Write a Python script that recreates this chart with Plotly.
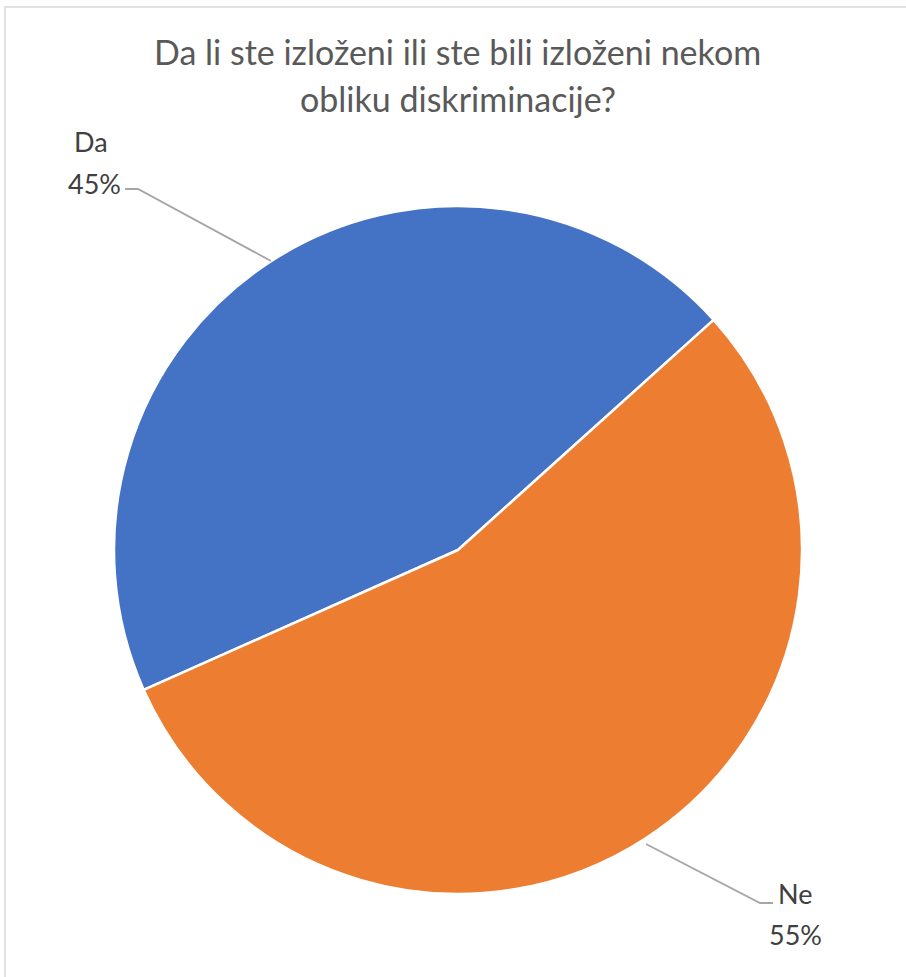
import plotly.graph_objects as go

labels = ["Da", "Ne"]
values = [45, 55]
colors = ["#4472C4", "#ED7D31"]
title_lines = ["Da li ste izloženi ili ste bili izloženi nekom", "obliku diskriminacije?"]

W, H = 906, 977
cx, cy, r = 458, 550, 344

def px(x):
    return x / W

def py(y):
    return 1 - y / H

fig = go.Figure(go.Pie(
    labels=labels,
    values=values,
    marker=dict(colors=colors, line=dict(color="white", width=2.5)),
    sort=False,
    direction="clockwise",
    rotation=246,
    textinfo="none",
    hoverinfo="label+percent",
    showlegend=False,
    domain=dict(x=[px(cx - r), px(cx + r)], y=[py(cy + r), py(cy - r)]),
))

font_family = "Lato, 'Open Sans', sans-serif"
grey = "#595959"
dark = "#404040"
line_col = "#A6A6A6"

def ann(text, x, y, size, color):
    return dict(text=text, x=px(x), y=py(y), xref="paper", yref="paper",
                showarrow=False, font=dict(family=font_family, size=size, color=color),
                xanchor="center", yanchor="middle", align="center")

annotations = [
    ann(title_lines[0], 457, 51, 34, grey),
    ann(title_lines[1], 458, 98, 34, grey),
    ann(labels[0], 91, 142, 27, dark),
    ann(f"{values[0]}%", 94, 184, 27, dark),
    ann(labels[1], 795, 893, 27, dark),
    ann(f"{values[1]}%", 795, 934, 27, dark),
]

shapes = [
    # chart border
    dict(type="rect", xref="paper", yref="paper", x0=px(5), y0=py(1100), x1=px(1100), y1=py(7),
         line=dict(color="#D9D9D9", width=1.5), fillcolor="rgba(0,0,0,0)"),
    # leader lines
    dict(type="path", xref="paper", yref="paper",
         path=f"M {px(125)} {py(189)} L {px(138)} {py(189)} L {px(271)} {py(261)}",
         line=dict(color=line_col, width=1.8)),
    dict(type="path", xref="paper", yref="paper",
         path=f"M {px(646)} {py(844)} L {px(760)} {py(903)} L {px(773)} {py(903)}",
         line=dict(color=line_col, width=1.8)),
]

fig.update_layout(
    width=W, height=H,
    margin=dict(l=0, r=0, t=0, b=0),
    paper_bgcolor="white",
    plot_bgcolor="white",
    annotations=annotations,
    shapes=shapes,
)

fig.write_html("out.html", config={"displayModeBar": False},
               post_script="document.body.style.margin='0';document.body.style.overflow='hidden';")
